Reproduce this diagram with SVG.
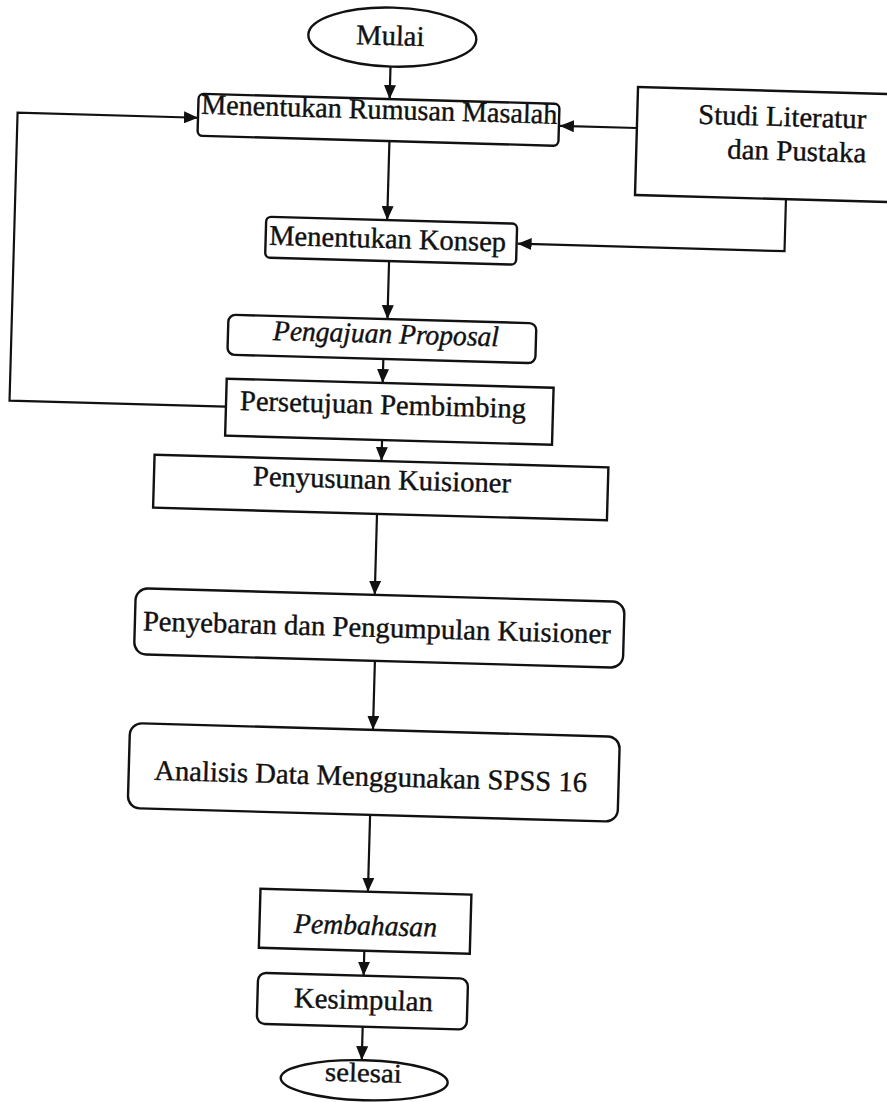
<svg xmlns="http://www.w3.org/2000/svg" width="887" height="1102" viewBox="0 0 887 1102">
<style>
.box{fill:#fff;stroke:#111;stroke-width:2.4}
.lbl{font-family:"Liberation Serif","Times New Roman",serif;font-size:28.5px;fill:#111;stroke:#111;stroke-width:0.4;text-anchor:middle}
.it{font-style:italic}
.edge{fill:none;stroke:#111;stroke-width:2.2}
</style>
<defs>
<marker id="ah" markerUnits="userSpaceOnUse" markerWidth="14" markerHeight="12" refX="14" refY="6" orient="auto">
<path d="M0,0 L14,6 L0,12 Z" fill="#111"/>
</marker>
</defs>
<rect width="887" height="1102" fill="#fff"/>
<g transform="rotate(1.6 380 550)">
<g id="connectors">
<line class="edge" x1="377" y1="66.5" x2="377" y2="99" marker-end="url(#ah)"/>
<line class="edge" x1="625" y1="121" x2="548" y2="121" marker-end="url(#ah)"/>
<polyline class="edge" points="776,188 776,240 509,240" marker-end="url(#ah)"/>
<line class="edge" x1="378" y1="141" x2="378" y2="220" marker-end="url(#ah)"/>
<line class="edge" x1="381" y1="261" x2="381" y2="319" marker-end="url(#ah)"/>
<line class="edge" x1="378" y1="359" x2="378" y2="383" marker-end="url(#ah)"/>
<polyline class="edge" points="222,411 5.5,411 5.5,123 186,123" marker-end="url(#ah)"/>
<line class="edge" x1="379" y1="440" x2="379" y2="461" marker-end="url(#ah)"/>
<line class="edge" x1="376" y1="514" x2="376" y2="595" marker-end="url(#ah)"/>
<line class="edge" x1="378" y1="661" x2="378" y2="730" marker-end="url(#ah)"/>
<line class="edge" x1="377.5" y1="815" x2="377.5" y2="892" marker-end="url(#ah)"/>
<line class="edge" x1="375.5" y1="951" x2="375.5" y2="976" marker-end="url(#ah)"/>
<line class="edge" x1="376" y1="1027" x2="376" y2="1060.5" marker-end="url(#ah)"/>
</g>
<g id="mulai">
<ellipse class="box" cx="378" cy="37" rx="84" ry="29.5"/>
<text class="lbl" x="376" y="45" textLength="68" lengthAdjust="spacingAndGlyphs">Mulai</text>
</g>
<g id="rumusan">
<rect class="box" x="186" y="99" width="361" height="42" rx="5"/>
<text class="lbl" x="367" y="119" textLength="356" lengthAdjust="spacingAndGlyphs">Menentukan Rumusan Masalah</text>
</g>
<g id="studi">
<rect class="box" x="625" y="80" width="320" height="108"/>
<text class="lbl" x="854" y="115" style="text-anchor:end" textLength="168" lengthAdjust="spacingAndGlyphs">Studi Literatur</text>
<text class="lbl" x="855" y="149" style="text-anchor:end" textLength="139" lengthAdjust="spacingAndGlyphs">dan Pustaka</text>
</g>
<g id="konsep">
<rect class="box" x="257" y="220" width="251" height="41" rx="5"/>
<text class="lbl" x="379" y="248" textLength="237" lengthAdjust="spacingAndGlyphs">Menentukan Konsep</text>
</g>
<g id="pengajuan">
<rect class="box" x="222" y="319" width="308" height="40" rx="7"/>
<text class="lbl it" x="380" y="343" textLength="226" lengthAdjust="spacingAndGlyphs">Pengajuan Proposal</text>
</g>
<g id="persetujuan">
<rect class="box" x="222" y="383" width="327" height="57"/>
<text class="lbl" x="379" y="414" textLength="286" lengthAdjust="spacingAndGlyphs">Persetujuan Pembimbing</text>
</g>
<g id="penyusunan">
<rect class="box" x="152" y="461" width="454" height="53"/>
<text class="lbl" x="380" y="489" textLength="258" lengthAdjust="spacingAndGlyphs">Penyusunan Kuisioner</text>
</g>
<g id="penyebaran">
<rect class="box" x="137" y="595" width="489" height="66" rx="12"/>
<text class="lbl" x="379" y="637" textLength="468" lengthAdjust="spacingAndGlyphs">Penyebaran dan Pengumpulan Kuisioner</text>
</g>
<g id="analisis">
<rect class="box" x="135" y="730" width="490" height="85" rx="12"/>
<text class="lbl" x="377" y="786" textLength="433" lengthAdjust="spacingAndGlyphs">Analisis Data Menggunakan SPSS 16</text>
</g>
<g id="pembahasan">
<rect class="box" x="270" y="892" width="211" height="59"/>
<text class="lbl it" x="376" y="935" textLength="143" lengthAdjust="spacingAndGlyphs">Pembahasan</text>
</g>
<g id="kesimpulan">
<rect class="box" x="270" y="976" width="210" height="51" rx="8"/>
<text class="lbl" x="376" y="1009.5" textLength="139" lengthAdjust="spacingAndGlyphs">Kesimpulan</text>
</g>
<g id="selesai">
<ellipse class="box" cx="379" cy="1080.5" rx="83.5" ry="20"/>
<text class="lbl" x="378" y="1082" style="font-size:27px" textLength="77" lengthAdjust="spacingAndGlyphs">selesai</text>
</g>
</g>
</svg>
